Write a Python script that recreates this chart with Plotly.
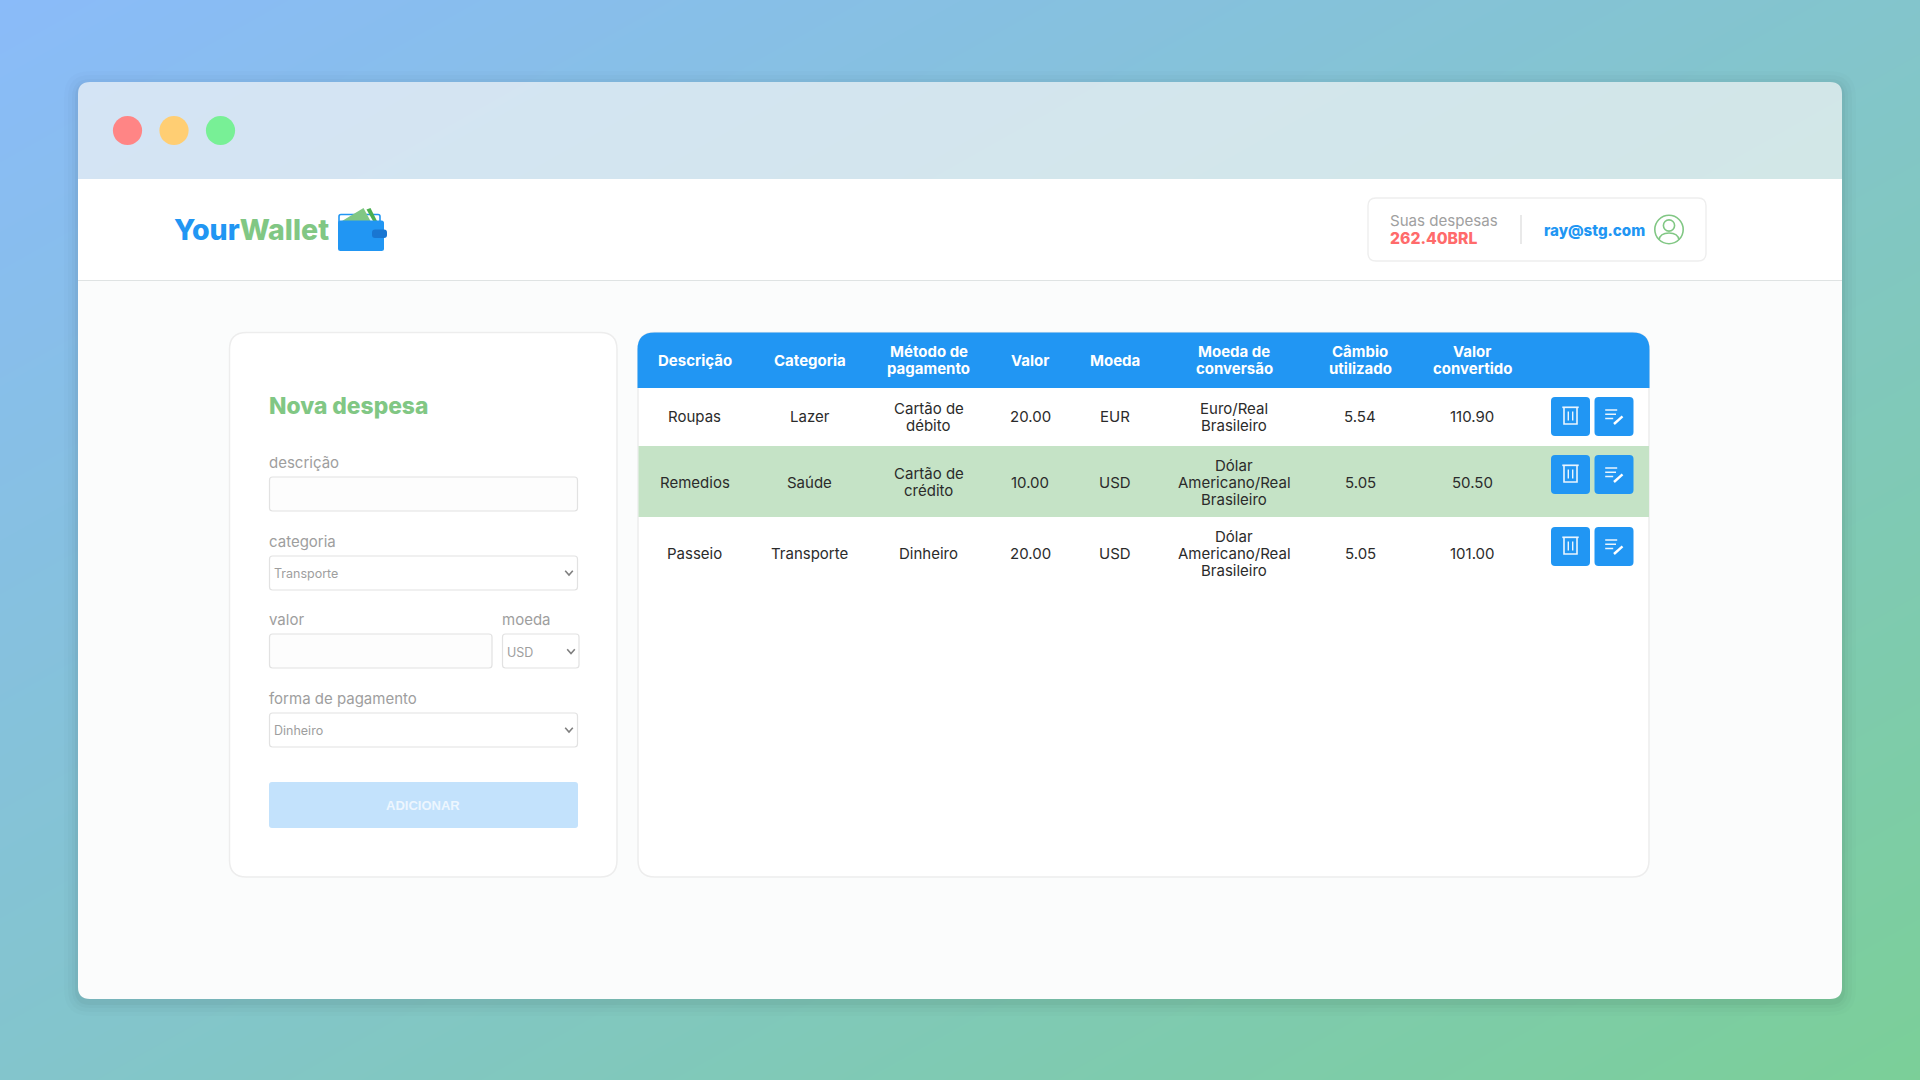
import plotly.graph_objects as go

# ---------- content ----------
column_headers = ["Descrição", "Categoria", "Método de\npagamento", "Valor", "Moeda",
                  "Moeda de\nconversão", "Câmbio\nutilizado", "Valor\nconvertido"]
descricao = ["Roupas", "Remedios", "Passeio"]
categoria = ["Lazer", "Saúde", "Transporte"]
metodo = ["Cartão de\ndébito", "Cartão de\ncrédito", "Dinheiro"]
valor = [20.00, 10.00, 20.00]
moeda = ["EUR", "USD", "USD"]
conversao = ["Euro/Real\nBrasileiro", "Dólar\nAmericano/Real\nBrasileiro", "Dólar\nAmericano/Real\nBrasileiro"]
cambio = [5.54, 5.05, 5.05]
convertido = [110.90, 50.50, 101.00]

form_labels = ["descrição", "categoria", "valor", "moeda", "forma de pagamento"]
select_values = ["Transporte", "USD", "Dinheiro"]

# ---------- layout ----------
col_x = [694.5, 809.5, 928.5, 1030.3, 1115, 1234, 1360, 1472]
row_y = [416.5, 482, 553.5]
btn_top = [397, 455, 527]

BLUE = "#2196F3"
GREEN = "#81C784"
GREY = "#9E9E9E"
SANS = "Inter"

shapes, notes = [], []


def rr(x0, y0, x1, y1, r, fill="rgba(0,0,0,0)", line=None, w=1, tl=True, tr=True, br=True, bl=True):
    p = f"M{x0 + (r if tl else 0)},{y0} L{x1 - (r if tr else 0)},{y0} "
    if tr: p += f"Q{x1},{y0} {x1},{y0 + r} "
    p += f"L{x1},{y1 - (r if br else 0)} "
    if br: p += f"Q{x1},{y1} {x1 - r},{y1} "
    p += f"L{x0 + (r if bl else 0)},{y1} "
    if bl: p += f"Q{x0},{y1} {x0},{y1 - r} "
    p += f"L{x0},{y0 + (r if tl else 0)} "
    if tl: p += f"Q{x0},{y0} {x0 + r},{y0} "
    p += "Z"
    shapes.append(dict(type="path", path=p, fillcolor=fill, layer="above",
                       line=dict(color=line or "rgba(0,0,0,0)", width=w if line else 0)))


def circ(cx, cy, r, fill="rgba(0,0,0,0)", line=None, w=1):
    shapes.append(dict(type="circle", x0=cx - r, x1=cx + r, y0=cy - r, y1=cy + r, fillcolor=fill, layer="above",
                       line=dict(color=line or "rgba(0,0,0,0)", width=w if line else 0)))


def path(p, fill="rgba(0,0,0,0)", line=None, w=1):
    shapes.append(dict(type="path", path=p, fillcolor=fill, layer="above",
                       line=dict(color=line or "rgba(0,0,0,0)", width=w if line else 0)))


def text(x, y, s, size=15, color="#333333", anchor="left", weight=400, family=SANS, lh=17):
    lines = s.split("\n")
    y0 = y - lh * (len(lines) - 1) / 2
    for i, ln in enumerate(lines):
        notes.append(dict(x=x, y=y0 + i * lh, text=ln, showarrow=False, xanchor=anchor, yanchor="middle",
                          font=dict(size=size, color=color, family=family, weight=weight), borderpad=0, borderwidth=0))


# window shadow
for g, a in [(14, 0.012), (10, 0.015), (6, 0.02), (3, 0.03)]:
    rr(78 - g, 82 - g + 3, 1842 + g, 999 + g + 3, 12 + g, fill=f"rgba(0,0,0,{a})")

# window
rr(78, 82, 1842, 179, 12, fill="rgba(255,255,255,0.67)", br=False, bl=False)
rr(78, 179, 1842, 281, 0.01, fill="#FFFFFF")
rr(78, 281, 1842, 999, 12, fill="#FBFCFC", tl=False, tr=False)
path("M78,280.5 L1842,280.5", line="#DFE3E3", w=1.2)

for cx, col in zip([127.5, 174, 220.5], ["#FF8585", "#FFCE73", "#78F096"]):
    circ(cx, 130.5, 14.6, fill=col)

# logo
notes.append(dict(x=172.5, y=229.5,
                  text=f'<span style="color:{BLUE}">Your</span><span style="color:{GREEN}">Wallet</span>',
                  showarrow=False, xanchor="left", yanchor="middle",
                  font=dict(size=28.5, family=SANS, weight=800), borderpad=0))
rr(339, 214.5, 380, 235, 2, fill="#FFFFFF", line=BLUE, w=1.6)
path("M342,221 L363.5,208 L370.5,221 Z", fill=GREEN)
path("M366.5,209.5 L370.5,208 L377,221 L373,221 Z", fill="#4CAF50")
rr(338, 220.5, 384, 251, 2.5, fill=BLUE)
rr(372, 229.5, 387, 238, 3, fill="#1976D2")

# user box
rr(1368, 198, 1706, 261, 8, fill="#FFFFFF", line="#EEEEEE", w=1.4)
text(1390, 220, "Suas despesas", 15.1, "#A0A0A0")
text(1390, 238.5, "262.40BRL", 15.7, "#FF6B6B", weight=800)
path("M1521,215 L1521,244", line="#E0E0E0", w=1.4)
text(1544, 230, "ray@stg.com", 15.1, BLUE, weight=800)
circ(1669, 229.5, 14.2, line=GREEN, w=1.6)
circ(1669, 225.5, 5.6, line=GREEN, w=1.6)
path("M1659,240 Q1660,233 1669,233 Q1678,233 1679,240", line=GREEN, w=1.6)

# form card
rr(229.5, 332.5, 617, 877, 17, fill="#FFFFFF", line="#EDEDED", w=1.5)
text(269, 405, "Nova despesa", 22.8, GREEN, weight=800)


def field(x0, y0, x1, fill="#FDFDFD"):
    rr(x0, y0, x1, y0 + 34, 3, fill=fill, line="#E2E2E2", w=1.2)


def chevron(x, y):
    path(f"M{x - 3.8},{y - 2.2} L{x},{y + 2} L{x + 3.8},{y - 2.2}", line="#7F7F7F", w=1.6)


label_pos = [(269, 462.5), (269, 541), (269, 619.5), (502, 619.5), (269, 698)]
for (lx, ly), lab in zip(label_pos, form_labels):
    text(lx, ly, lab, 15, GREY)

field(269.5, 477, 577.5)
field(269.5, 556, 577.5, "#FFFFFF")
field(269.5, 634, 492)
field(502.5, 634, 579, "#FFFFFF")
field(269.5, 713, 577.5, "#FFFFFF")
for (sx, sy), val in zip([(274, 573.5), (507, 652), (274, 730.5)], select_values):
    text(sx, sy, val, 12.5, GREY)
chevron(569, 573)
chevron(571, 651.5)
chevron(569, 730)

rr(269, 782, 578, 828, 3, fill="#C3E2FC")
text(423, 805, "ADICIONAR", 13, "#EDF6FE", anchor="center", weight=700, family="Liberation Sans")

# table card
rr(638, 332.5, 1649, 877, 17, fill="#FFFFFF", line="#EDEDED", w=1.5)
rr(637.5, 332.5, 1649.5, 388, 17, fill=BLUE, br=False, bl=False)
rr(638.5, 446, 1649, 517, 0.01, fill="#C5E3C6")

for x, h in zip(col_x, column_headers):
    text(x, 360, h, 15, "#FFFFFF", anchor="center", weight=700)

columns = [descricao, categoria, metodo,
           [f"{v:.2f}" for v in valor], moeda, conversao,
           [f"{v:.2f}" for v in cambio], [f"{v:.2f}" for v in convertido]]
for x, col in zip(col_x, columns):
    for y, val in zip(row_y, col):
        text(x, y, val, 15, "#2B2B2B", anchor="center")

ICON = "#EAF5FE"
for t in btn_top:
    # delete button
    b = 1551
    rr(b, t, b + 39, t + 39, 4, fill=BLUE)
    path(f"M{b + 11.3},{t + 10.3} L{b + 27.7},{t + 10.3}", line=ICON, w=1.7)
    path(f"M{b + 13},{t + 10.5} L{b + 13},{t + 27} L{b + 26},{t + 27} L{b + 26},{t + 10.5}", line=ICON, w=1.6)
    path(f"M{b + 17.3},{t + 14.5} L{b + 17.3},{t + 23.5} M{b + 21.7},{t + 14.5} L{b + 21.7},{t + 23.5}", line=ICON, w=1.4)
    # edit button
    b = 1594.5
    rr(b, t, b + 39, t + 39, 4, fill=BLUE)
    path(f"M{b + 10.7},{t + 13} L{b + 22.7},{t + 13} M{b + 10.7},{t + 17.3} L{b + 21.5},{t + 17.3} "
         f"M{b + 10.7},{t + 21.5} L{b + 18.7},{t + 21.5}", line=ICON, w=1.5)
    path(f"M{b + 19.5},{t + 27} L{b + 28},{t + 19.3}", line="#FFFFFF", w=2.4)

# background gradient
bg = go.Heatmap(x=[0, 1920], y=[0, 1080], z=[[0, 1], [1, 2]], zmin=0, zmax=2, zsmooth="best",
                colorscale=[[0, "#8ABBF9"], [0.5, "#83C5CC"], [1, "#7BCF98"]],
                showscale=False, hoverinfo="skip")

fig = go.Figure(bg)
fig.update_layout(width=1920, height=1080, margin=dict(l=0, r=0, t=0, b=0), shapes=shapes, annotations=notes,
                  xaxis=dict(range=[0, 1920], visible=False, fixedrange=True),
                  yaxis=dict(range=[1080, 0], visible=False, fixedrange=True),
                  paper_bgcolor="#83C5CC", plot_bgcolor="#83C5CC", showlegend=False)
fig.write_html("out.html", config=dict(displayModeBar=False),
               post_script="document.body.style.margin='0';document.body.style.overflow='hidden';")
